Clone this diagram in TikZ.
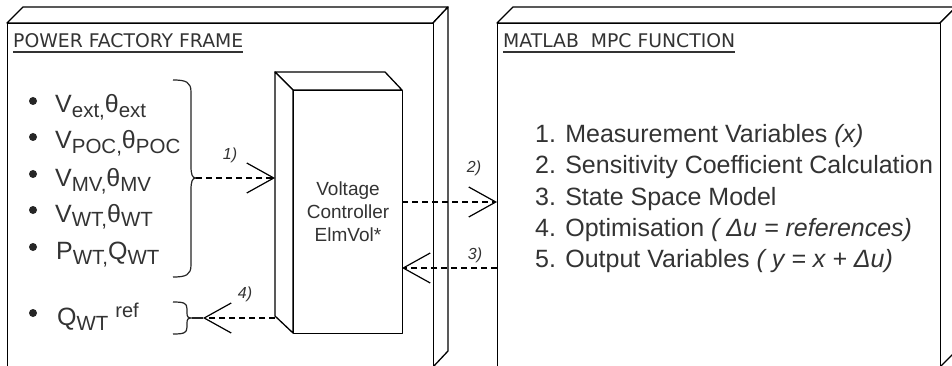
\documentclass[tikz,border=0pt]{standalone}
\usepackage{fontspec}
\setmainfont{Liberation Sans}
\newfontfamily\titlefont{DejaVu Sans}
\usetikzlibrary{arrows.meta}
\definecolor{txt}{HTML}{333333}
\newcommand\lsub[1]{\raisebox{-5pt}{\fontsize{20.5}{22}\selectfont #1}}
\newcommand\lsup[1]{\raisebox{8pt}{\fontsize{20}{22}\selectfont #1}}
\begin{document}
\begin{tikzpicture}[x=1pt,y=-1pt]
\tikzset{
 face/.style={draw=black, fill=white, line width=1.3pt, line join=round},
 flow/.style={dash pattern=on 6pt off 4pt, line width=1.2pt, -{Straight Barb[length=27pt,width=30pt,line width=1.2pt]}},
 lbl/.style={font=\fontsize{16}{18}\selectfont\itshape, text=txt, inner sep=0},
 lst/.style={font=\fontsize{25}{30}\selectfont, text=txt, inner sep=0, anchor=base west},
 ttl/.style={font=\titlefont\fontsize{18.8}{22}\selectfont, text=txt, inner sep=0, anchor=base west},
 ul/.style={draw=txt, line width=1.3pt},
 brace/.style={draw=black!85, line width=1.2pt},
 bullet/.style={fill=black!85},
}
\useasboundingbox (0,0) rectangle (952,366);
\clip (0,0) rectangle (952,366);
\fill[white] (0,0) rectangle (952,366);
% left frame
\draw[face] (7,23) -- (23,7) -- (448,7) -- (433,23) -- cycle;
\draw[face] (433,23) -- (448,7) -- (448,351) -- (433,367) -- cycle;
\node[face, minimum width=426pt, minimum height=345pt, anchor=north west, inner sep=0] (pf) at (7,23) {};
% right frame
\draw[face] (497,23) -- (513,7) -- (956,7) -- (940,23) -- cycle;
\draw[face] (940,23) -- (956,7) -- (956,351) -- (940,367) -- cycle;
\node[face, minimum width=443pt, minimum height=345pt, anchor=north west, inner sep=0] (mf) at (497,23) {};
% titles
\node[ttl] (t1) at (13,48) {POWER FACTORY FRAME};
\draw[ul] ([yshift=-4pt]t1.base west) -- ([yshift=-4pt]t1.base east);
\node[ttl] (t2) at (503,48) {MATLAB\ \ MPC FUNCTION};
\draw[ul] ([yshift=-4pt]t2.base west) -- ([yshift=-4pt]t2.base east);
% cube
\draw[face] (275,72) -- (385,72) -- (402,90) -- (293,90) -- cycle;
\draw[face] (275,72) -- (293,90) -- (293,333) -- (275,316) -- cycle;
\node[face, minimum width=109pt, minimum height=243pt, anchor=north west, inner sep=0] (vc) at (293,90) {};
\node[font=\fontsize{19}{23}\selectfont, align=center, text=txt, inner sep=0] (vct) at (348,212) {Voltage\\Controller\\ElmVol*};
% left list
\foreach \yy in {113,149,186,222,259,325} \fill[bullet] (33,\yy-12) circle (4);
\node[lst] (i1) at (55,113) {V\lsub{ext,}θ\lsub{ext}};
\node[lst] (i2) at (55,149) {V\lsub{POC,}θ\lsub{POC}};
\node[lst] (i3) at (55,186) {V\lsub{MV,}θ\lsub{MV}};
\node[lst] (i4) at (55,222) {V\lsub{WT,}θ\lsub{WT}};
\node[lst] (i5) at (56,259) {P\lsub{WT,}Q\lsub{WT}};
\node[lst] (i6) at (57,325) {Q\lsub{WT} \lsup{ref}};
% braces
\draw[brace] (173,80) .. controls (186,80) and (191,82) .. (191,92) -- (191,166) .. controls (191,174) and (192,178) .. (196,178)
  .. controls (192,178) and (191,182) .. (191,190) -- (191,265) .. controls (191,275) and (186,277) .. (173,277);
\coordinate (b1) at (196,178);
\draw[brace] (173,302) .. controls (184,302) and (187,303) .. (187,309) -- (187,313) .. controls (187,317) and (188,318) .. (192,318)
  .. controls (188,318) and (187,319) .. (187,323) -- (187,327) .. controls (187,333) and (184,334) .. (173,334);
\draw[brace] (192,318) -- (203,318);
\coordinate (b2) at (203,318);
% connector ends
\coordinate (a1) at (275,178);
\coordinate (a4) at (275,318);
\coordinate (o2) at (402,202);
\coordinate (m2) at (497,202);
\coordinate (m3) at (497,268);
\coordinate (o3) at (402,268);
\draw[flow] (b1) -- (a1);
\draw[flow] (o2) -- (m2);
\draw[flow] (m3) -- (o3);
\draw[flow] (a4) -- (b2);
\node[lbl] (l1) at (230,155) {1)};
\node[lbl] (l2) at (474,168) {2)};
\node[lbl] (l3) at (475,255) {3)};
\node[lbl] (l4) at (245,294) {4)};
% right list
\node[lst] (r1) at (535,143) {1. Measurement Variables \textit{(x)}};
\node[lst] (r2) at (535,174) {2. Sensitivity Coefficient Calculation};
\node[lst] (r3) at (535,205) {3. State Space Model};
\node[lst] (r4) at (535,236) {4. Optimisation \textit{( Δu = references)}};
\node[lst] (r5) at (535,267) {5. Output Variables \textit{( y = x + Δu)}};
\end{tikzpicture}
\end{document}
